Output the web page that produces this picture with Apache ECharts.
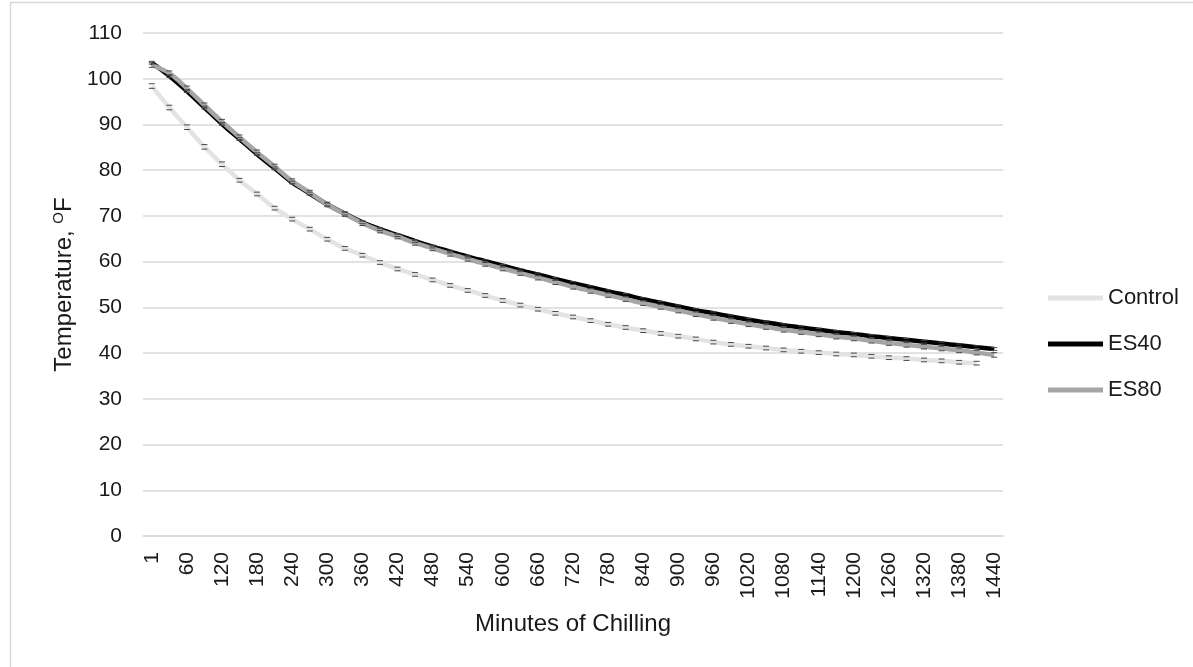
<!DOCTYPE html>
<html>
<head>
<meta charset="utf-8">
<script src="https://cdn.jsdelivr.net/npm/echarts@6/dist/echarts.min.js"></script>
<style>
html,body{margin:0;padding:0;background:#fff;}
#chart{width:1193px;height:667px;}
</style>
</head>
<body>
<div id="chart"></div>
<script>
// Minutes of chilling (categories)
var minutes = ['1','30','60','90','120','150','180','210','240','270','300','330','360','390','420','450','480','510','540','570','600','630','660','690','720','750','780','810','840','870','900','930','960','990','1020','1050','1080','1110','1140','1170','1200','1230','1260','1290','1320','1350','1380','1410','1440'];

var controlTemp = [98.4,93.7,89.4,85.1,81.3,77.8,74.8,71.7,69.3,67.1,64.9,62.9,61.4,59.8,58.4,57.2,56.0,54.8,53.7,52.6,51.5,50.5,49.6,48.7,47.9,47.1,46.3,45.6,44.9,44.3,43.7,43.1,42.4,41.9,41.5,41.1,40.7,40.4,40.1,39.8,39.6,39.3,39.0,38.8,38.5,38.3,38.0,37.8,null];

var es40Temp = [103.5,100.6,97.3,93.7,90.1,86.8,83.5,80.4,77.3,74.9,72.5,70.5,68.6,67.1,65.8,64.5,63.3,62.2,61.1,60.1,59.1,58.1,57.2,56.2,55.3,54.4,53.5,52.7,51.8,51.0,50.2,49.4,48.7,48.0,47.3,46.7,46.1,45.6,45.1,44.6,44.2,43.7,43.3,42.9,42.5,42.1,41.7,41.3,40.9];

var es80Temp = [103.0,101.2,97.9,94.2,90.6,87.2,83.9,80.8,77.6,75.1,72.5,70.4,68.4,66.8,65.5,64.1,62.9,61.7,60.6,59.5,58.5,57.5,56.5,55.5,54.5,53.6,52.7,51.8,50.9,50.1,49.3,48.5,47.7,47.0,46.3,45.7,45.1,44.6,44.1,43.6,43.2,42.7,42.2,41.8,41.4,41.0,40.6,40.1,39.6];

// Error bar half-widths (estimated)
var controlErr = [0.5,0.5,0.5,0.5,0.5,0.4,0.4,0.4,0.4,0.4,0.4,0.4,0.4,0.4,0.4,0.4,0.4,0.4,0.4,0.4,0.4,0.4,0.4,0.4,0.4,0.4,0.4,0.4,0.4,0.4,0.4,0.4,0.4,0.4,0.4,0.4,0.4,0.4,0.4,0.4,0.4,0.4,0.4,0.4,0.4,0.4,0.4,0.4,null];
var es40Err = [0.3,0.3,0.3,0.3,0.3,0.3,0.3,0.3,0.3,0.3,0.3,0.3,0.3,0.3,0.3,0.3,0.3,0.3,0.3,0.3,0.3,0.3,0.3,0.3,0.3,0.3,0.3,0.3,0.3,0.3,0.3,0.3,0.3,0.3,0.3,0.3,0.3,0.3,0.3,0.3,0.3,0.3,0.3,0.3,0.3,0.3,0.3,0.3,0.3];
var es80Err = [0.5,0.5,0.5,0.5,0.5,0.5,0.5,0.5,0.5,0.5,0.5,0.5,0.5,0.5,0.5,0.5,0.5,0.5,0.5,0.5,0.5,0.5,0.5,0.5,0.5,0.5,0.5,0.5,0.5,0.5,0.5,0.5,0.5,0.5,0.5,0.5,0.5,0.5,0.5,0.5,0.5,0.5,0.5,0.5,0.5,0.5,0.5,0.5,0.5];

var seriesNames = ['Control','ES40','ES80'];
var yTicks = {min:0, max:110, interval:10};

var FONT = 'Liberation Sans';
var TXT = '#1a1a1a';

function errData(vals, errs){
  var out = [];
  for (var i=0;i<vals.length;i++){
    if (vals[i] != null && errs[i] != null) out.push([i, vals[i], errs[i]]);
  }
  return out;
}
function errRender(params, api){
  var x = api.value(0), v = api.value(1), e = api.value(2);
  var hi = api.coord([x, v+e]);
  var lo = api.coord([x, v-e]);
  var w = 3;
  var st = {stroke:'#4a4a4a', lineWidth:1};
  return {type:'group', children:[
    {type:'line', shape:{x1:hi[0]-w,y1:hi[1],x2:hi[0]+w,y2:hi[1]}, style:st},
    {type:'line', shape:{x1:lo[0]-w,y1:lo[1],x2:lo[0]+w,y2:lo[1]}, style:st}
  ]};
}

var chart = echarts.init(document.getElementById('chart'));
chart.setOption({
  animation:false,
  backgroundColor:'#fff',
  graphic:[{type:'rect', shape:{x:10.5,y:2.5,width:1400,height:900}, style:{fill:'none', stroke:'#d9d9d9', lineWidth:1.5}, z:-10}],
  grid:{left:143, right:190, top:33, bottom:131, containLabel:false},
  legend:{
    data:seriesNames, orient:'vertical', left:1043, top:282,
    itemWidth:55, itemHeight:5, itemGap:24, icon:'rect',
    textStyle:{fontFamily:FONT, fontSize:22, color:TXT}
  },
  xAxis:{
    type:'category', data:minutes, boundaryGap:true,
    name:'Minutes of Chilling', nameLocation:'middle', nameGap:76,
    nameTextStyle:{fontFamily:FONT, fontSize:24, color:TXT},
    axisLine:{show:true, lineStyle:{color:'#d9d9d9', width:1.5}},
    axisTick:{show:false},
    axisLabel:{interval:1, rotate:90, margin:16, fontFamily:FONT, fontSize:21, color:TXT}
  },
  yAxis:{
    type:'value', min:yTicks.min, max:yTicks.max, interval:yTicks.interval,
    name:'Temperature, {sup|O}F', nameLocation:'middle', nameGap:62,
    nameTextStyle:{fontFamily:FONT, fontSize:24, color:TXT,
      rich:{sup:{fontFamily:FONT, fontSize:15, color:TXT, verticalAlign:'top', padding:[0,0,10,0]}}},
    axisLine:{show:false}, axisTick:{show:false},
    axisLabel:{margin:21, fontFamily:FONT, fontSize:21, color:TXT},
    splitLine:{lineStyle:{color:'#d9d9d9', width:1.5}}
  },
  series:[
    {name:'Control', type:'line', data:controlTemp, smooth:0.3, symbol:'none', color:'#e3e3e3', lineStyle:{width:4.5, color:'#e3e3e3'}, z:2},
    {name:'ES40', type:'line', data:es40Temp, smooth:0.3, symbol:'none', color:'#000000', lineStyle:{width:4.5, color:'#000000'}, z:2},
    {name:'ES80', type:'line', data:es80Temp, smooth:0.3, symbol:'none', color:'#a5a5a5', lineStyle:{width:4.5, color:'#a5a5a5'}, z:2},
    {type:'custom', renderItem:errRender, data:errData(controlTemp, controlErr), z:4, silent:true},
    {type:'custom', renderItem:errRender, data:errData(es40Temp, es40Err), z:4, silent:true},
    {type:'custom', renderItem:errRender, data:errData(es80Temp, es80Err), z:4, silent:true}
  ]
});
</script>
</body>
</html>
